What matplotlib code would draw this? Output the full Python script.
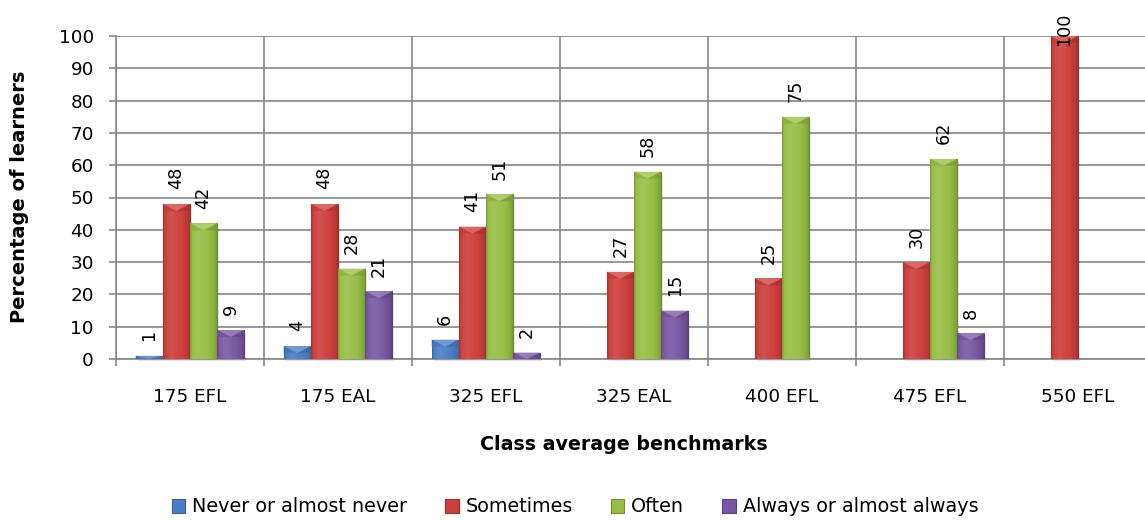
import numpy as np
import matplotlib
matplotlib.use("Agg")
import matplotlib.pyplot as plt
from matplotlib.patches import Patch, Polygon, Rectangle
from matplotlib.colors import to_rgb

# ---- data -------------------------------------------------------------
categories = ["175 EFL", "175 EAL", "325 EFL", "325 EAL", "400 EFL", "475 EFL", "550 EFL"]
series_names = ["Never or almost never", "Sometimes", "Often", "Always or almost always"]
never = [1, 4, 6, None, None, None, None]
sometimes = [48, 48, 41, 27, 25, 30, 100]
often = [42, 28, 51, 58, 75, 62, None]
always = [9, 21, 2, 15, None, 8, None]
y_ticks = [0, 10, 20, 30, 40, 50, 60, 70, 80, 90, 100]

series_values = [never, sometimes, often, always]
series_colors = ["#4A7EC4", "#CC3F3C", "#98BE45", "#7A57A3"]

W, H, DPI = 1145, 520, 100
GRID = "#868686"
FONT = "DejaVu Sans"

plt.rcParams["font.family"] = [FONT]

fig = plt.figure(figsize=(W / DPI, H / DPI), dpi=DPI)
# plot area runs slightly past the right edge of the canvas
ax = fig.add_axes([116 / W, (H - 359) / H, 1036 / W, 323 / H])

n_series = len(series_values)
bar_w = 0.184
x = np.arange(len(categories))

ax.set_xlim(-0.5, len(categories) - 0.5)
ax.set_ylim(0, 100)


def shade(rgb, f):
    rgb = np.asarray(rgb)
    if f >= 1:
        return rgb + (1 - rgb) * (f - 1)
    return rgb * f


# horizontal bevel profile across each bar
prof_t = [0.0, 0.08, 0.3, 0.7, 0.92, 1.0]
prof_f = [0.80, 1.02, 1.10, 1.0, 0.88, 0.72]
cols = np.linspace(0, 1, 64)
fac = np.interp(cols, prof_t, prof_f)

px_per_unit = ax.transData.transform((0, 1))[1] - ax.transData.transform((0, 0))[1]
px_per_xunit = ax.transData.transform((1, 0))[0] - ax.transData.transform((0, 0))[0]

labels = []
for i, (vals, col) in enumerate(zip(series_values, series_colors)):
    heights = [np.nan if v is None else v for v in vals]
    offs = (i - (n_series - 1) / 2) * bar_w
    base = to_rgb(col)
    bars = ax.bar(x + offs, heights, width=bar_w, color=col, edgecolor="none",
                  zorder=3)
    grad = np.array([[shade(base, f) for f in fac]])
    for rect, v in zip(bars, vals):
        if v is None:
            continue
        x0, w, h = rect.get_x(), rect.get_width(), rect.get_height()
        # soft drop shadow
        sh_dx = 2.0 / px_per_xunit
        sh_dy = 2.0 / px_per_unit
        ax.add_patch(Rectangle((x0 + sh_dx, -sh_dy), w, h, facecolor="black",
                               alpha=0.10, edgecolor="none", zorder=2.5,
                               clip_on=False))
        im = ax.imshow(grad, extent=[x0, x0 + w, 0, h], aspect="auto",
                       interpolation="bilinear", zorder=3.1)
        im.set_clip_path(rect)
        # bevelled cap on the top edge
        depth = min(7 / px_per_unit, h)
        ax.add_patch(Polygon([[x0, h], [x0 + w, h], [x0 + w / 2, h - depth]],
                             closed=True, facecolor=shade(base, 1.25),
                             edgecolor="none", alpha=0.85, zorder=3.2))
        ax.add_patch(Polygon([[x0, h], [x0 + w / 2, h - depth], [x0, h - depth]],
                             closed=True, facecolor=shade(base, 0.9),
                             edgecolor="none", alpha=0.6, zorder=3.2))
        ax.add_patch(Polygon([[x0 + w, h], [x0 + w / 2, h - depth], [x0 + w, h - depth]],
                             closed=True, facecolor=shade(base, 0.8),
                             edgecolor="none", alpha=0.6, zorder=3.2))
        ann = ax.annotate(f"{v:g}", xy=(x0 + w / 2, h), xytext=(0, 10.5),
                          textcoords="offset points", rotation=90,
                          ha="center", va="bottom", fontsize=12.7,
                          color="black", zorder=5, annotation_clip=False)
        labels.append(ann)

ax.set_xlim(-0.5, len(categories) - 0.5)
ax.set_ylim(0, 100)

# axes, ticks and grid
ax.set_yticks(y_ticks)
ax.set_xticks(np.arange(-0.5, len(categories), 1.0))
ax.set_xticklabels([])
ax.set_xticks(x, minor=True)
ax.set_xticklabels(categories, minor=True)
ax.tick_params(axis="x", which="major", length=5, width=1.2, color=GRID)
ax.tick_params(axis="x", which="minor", length=0, pad=21, labelsize=13.2)
ax.tick_params(axis="y", length=5, width=1.2, color=GRID, pad=11, labelsize=13.2)
ax.grid(True, which="major", color=GRID, linewidth=1.2, zorder=0)
ax.set_axisbelow(True)
for side in ("top", "right"):
    ax.spines[side].set_visible(False)
for side in ("left", "bottom"):
    ax.spines[side].set_color(GRID)
    ax.spines[side].set_linewidth(1.2)

fig.text(20 / W, (H - 197) / H, "Percentage of learners", rotation=90,
         ha="center", va="center", fontsize=14, fontweight="bold")
fig.text(624 / W, (H - 445) / H, "Class average benchmarks",
         ha="center", va="center", fontsize=13.7, fontweight="bold")

handles = [Patch(facecolor=c, edgecolor=shade(to_rgb(c), 0.75), linewidth=0.8)
           for c in series_colors]
fig.legend(handles, series_names, loc="center", bbox_to_anchor=(575 / W, (H - 507) / H),
           ncol=4, frameon=False, fontsize=13.8, handlelength=0.7, handleheight=0.7,
           handletextpad=0.35, columnspacing=2.0)

# pull any value label back inside the canvas
fig.canvas.draw()
renderer = fig.canvas.get_renderer()
limit = fig.bbox.height - 13
for ann in labels:
    bb = ann.get_window_extent(renderer)
    if bb.y1 > limit:
        dx, dy = ann.xyann
        ann.xyann = (dx, dy - (bb.y1 - limit) * 72 / DPI)

fig.savefig("out.png", dpi=DPI)
